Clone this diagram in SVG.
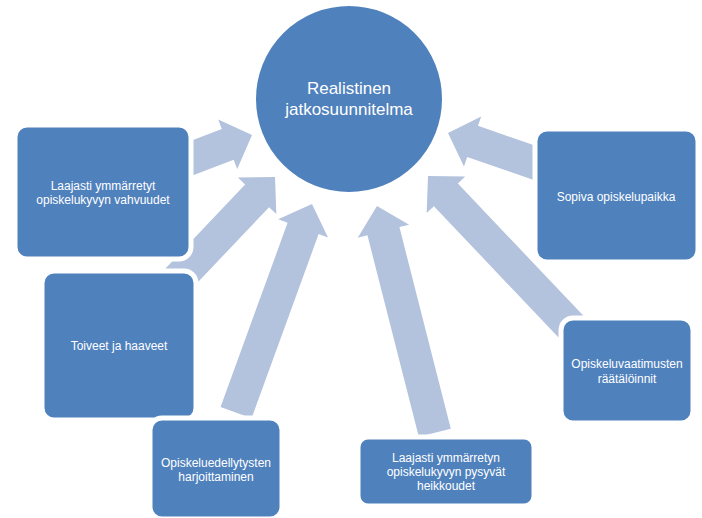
<svg xmlns="http://www.w3.org/2000/svg" width="702" height="518" viewBox="0 0 702 518">
<style>
.arrow{fill:#B3C2DD;stroke:none}
.box{fill:#4F81BD;stroke:#FFFFFF;stroke-width:5}
.lbl{fill:#FFFFFF;font-family:"Liberation Sans",Arial,sans-serif;font-size:12px;text-anchor:middle}
.big{font-size:17px}
</style>
<rect width="702" height="518" fill="#FFFFFF"/>
<g id="connectors">
<polygon class="arrow" transform="translate(252,135) rotate(-21)" points="0,0 -26,-26.5 -26,-16.5 -75,-16.5 -75,16.5 -26,16.5 -26,26.5"/>
<polygon class="arrow" transform="translate(275,177) rotate(-46.5)" points="0,0 -26,-26.5 -26,-16.5 -142,-16.5 -142,16.5 -26,16.5 -26,26.5"/>
<polygon class="arrow" transform="translate(312,204) rotate(-70)" points="0,0 -26,-26.5 -26,-16.5 -222,-16.5 -222,16.5 -26,16.5 -26,26.5"/>
<polygon class="arrow" transform="translate(377,206) rotate(-104.3)" points="0,0 -26,-26.5 -26,-16.5 -234,-16.5 -234,16.5 -26,16.5 -26,26.5"/>
<polygon class="arrow" transform="translate(428,176) rotate(-133.5)" points="0,0 -26,-26.5 -26,-16.5 -215,-16.5 -215,16.5 -26,16.5 -26,26.5"/>
<polygon class="arrow" transform="translate(448,133) rotate(-161)" points="0,0 -26,-26.5 -26,-16.5 -100,-16.5 -100,16.5 -26,16.5 -26,26.5"/>
</g>
<g id="center">
<circle cx="349" cy="99" r="94" fill="#4F81BD" stroke="#FFFFFF" stroke-width="2"/>
<text class="lbl big" x="349" y="94">Realistinen</text>
<text class="lbl big" x="349" y="115">jatkosuunnitelma</text>
</g>
<g id="box1">
<rect class="box" x="15" y="125" width="176" height="134" rx="12"/>
<text class="lbl" x="103" y="190">Laajasti ymmärretyt</text>
<text class="lbl" x="103" y="204">opiskelukyvyn vahvuudet</text>
</g>
<g id="box2">
<rect class="box" x="42" y="271" width="154" height="149" rx="12"/>
<text class="lbl" x="119" y="350">Toiveet ja haaveet</text>
</g>
<g id="box3">
<rect class="box" x="150" y="418" width="132" height="101" rx="12"/>
<text class="lbl" x="216" y="467">Opiskeluedellytysten</text>
<text class="lbl" x="216" y="481">harjoittaminen</text>
</g>
<g id="box4">
<rect class="box" x="358" y="437" width="176" height="69" rx="10"/>
<text class="lbl" x="446" y="462">Laajasti ymmärretyn</text>
<text class="lbl" x="446" y="476">opiskelukyvyn pysyvät</text>
<text class="lbl" x="446" y="490">heikkoudet</text>
</g>
<g id="box5">
<rect class="box" x="561" y="318" width="132" height="105" rx="12"/>
<text class="lbl" x="627" y="368">Opiskeluvaatimusten</text>
<text class="lbl" x="627" y="383">räätälöinnit</text>
</g>
<g id="box6">
<rect class="box" x="535" y="129" width="163" height="133" rx="12"/>
<text class="lbl" x="616" y="201">Sopiva opiskelupaikka</text>
</g>
</svg>
